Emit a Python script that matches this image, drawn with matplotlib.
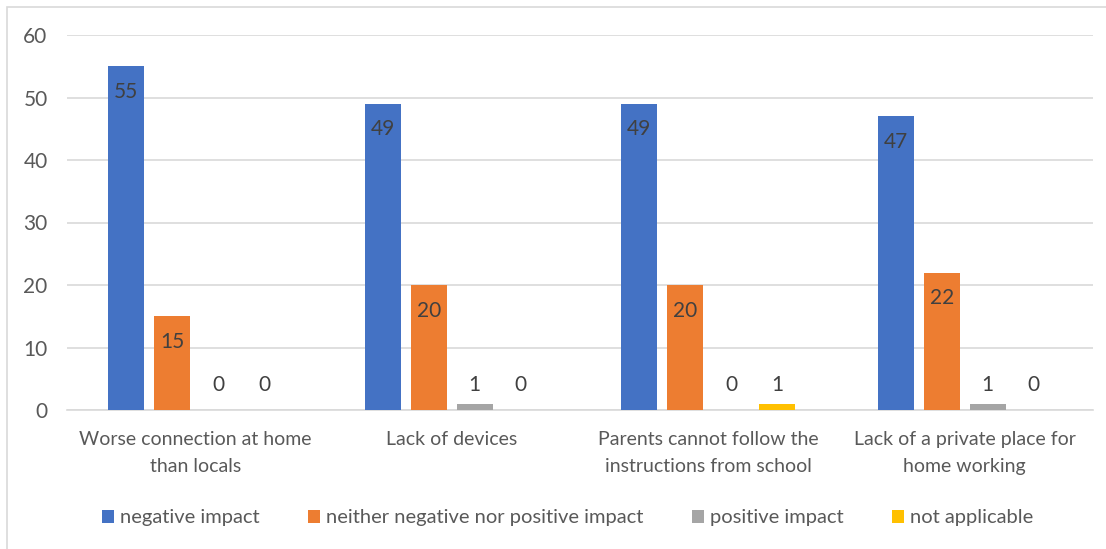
import numpy as np
import matplotlib
matplotlib.use("Agg")
import matplotlib.pyplot as plt
from matplotlib.patches import Rectangle

categories = [
    "Worse connection at home\nthan locals",
    "Lack of devices",
    "Parents cannot follow the\ninstructions from school",
    "Lack of a private place for\nhome working",
]
series_names = [
    "negative impact",
    "neither negative nor positive impact",
    "positive impact",
    "not applicable",
]
negative_impact = [55, 49, 49, 47]
neither_impact = [15, 20, 20, 22]
positive_impact = [0, 1, 0, 1]
not_applicable = [0, 0, 1, 0]
y_ticks = [0, 10, 20, 30, 40, 50, 60]

colors = ["#4472C4", "#ED7D31", "#A5A5A5", "#FFC000"]
text_color = "#595959"
grid_color = "#D9D9D9"

plt.rcParams["font.family"] = ["Lato", "DejaVu Sans"]

fig = plt.figure(figsize=(11.06, 5.49), dpi=100)
fig.patches.append(Rectangle((7 / 1106, -0.05), 1.0, 1.05 - 7 / 549,
                             transform=fig.transFigure, fill=False,
                             edgecolor="#D9D9D9", linewidth=1.2))

ax = fig.add_axes([67 / 1106, 1 - 410 / 549, (1093 - 67) / 1106, 375 / 549])

series = [negative_impact, neither_impact, positive_impact, not_applicable]
x = np.arange(len(categories))
bar_w = 0.14
step = 0.179
offsets = (np.arange(4) - 1.5) * step

for i, (vals, name, col) in enumerate(zip(series, series_names, colors)):
    bars = ax.bar(x + offsets[i], vals, width=bar_w, color=col, label=name, zorder=3)
    for b, v in zip(bars, vals):
        cx = b.get_x() + b.get_width() / 2
        if v >= 5:
            ax.annotate(str(v), (cx, v), xytext=(0, -18.5), textcoords="offset points",
                        ha="center", va="center", fontsize=15, color="#404040", zorder=4)
        else:
            ax.annotate(str(v), (cx, 0), xytext=(0, 18), textcoords="offset points",
                        ha="center", va="center", fontsize=15, color="#404040", zorder=4)

ax.set_xlim(-0.5, len(categories) - 0.5)
ax.set_ylim(0, 60)
ax.set_yticks(y_ticks)
ax.set_xticks(x)
ax.set_xticklabels(categories, fontsize=14, color=text_color, linespacing=1.7)
ax.tick_params(axis="y", labelsize=15, labelcolor=text_color, length=0, pad=14)
ax.tick_params(axis="x", length=0, pad=15)
ax.yaxis.grid(True, color=grid_color, linewidth=1.2, zorder=0)
ax.set_axisbelow(True)
for s in ["top", "right", "left"]:
    ax.spines[s].set_visible(False)
ax.spines["bottom"].set_color(grid_color)
ax.spines["bottom"].set_linewidth(1.2)

handles, labels = ax.get_legend_handles_labels()
fig.legend(handles, labels, loc="center", bbox_to_anchor=(0.513, 1 - 518 / 549),
           ncol=4, frameon=False, fontsize=14.5, labelcolor=text_color,
           handlelength=0.6, handleheight=0.6, handletextpad=0.3, columnspacing=2.4)

fig.savefig("out.png", dpi=100)
